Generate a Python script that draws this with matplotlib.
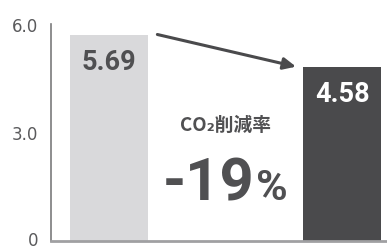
import numpy as np
import matplotlib.pyplot as plt
import matplotlib.transforms as mtransforms

# data
categories = ['before', 'after']
bar_heights = [5.69, 4.80]      # heights as drawn on the 0-6 scale
bar_labels = ['5.69', '4.58']
y_ticks = [0, 3, 6]
y_tick_labels = ['0', '3.0', '6.0']
note_text = 'CO₂削減率'
rate_text = '-19'
#
c_light = '#d9d9db'
c_dark = '#4a4a4c'
c_text = '#505052'

fig = plt.figure(figsize=(3.87, 2.51), dpi=100)
ax = fig.add_axes([51/387, 1-242/251, 1-51/387, (242-25)/251])

x = np.arange(len(categories))
w = 0.335
bars = ax.bar(x, bar_heights, width=w, color=[c_light, c_dark])

ax.set_xlim(-0.249, 1.193)
ax.set_ylim(0, 6)
ax.set_xticks([])
ax.set_yticks(y_ticks, y_tick_labels)
ax.tick_params(axis='y', length=0, pad=9, labelsize=12, labelcolor='#5a5a5c')
for lab in ax.get_yticklabels():
    lab.set_verticalalignment('center_baseline')
# keep "0" inside the picture
lab0 = ax.get_yticklabels()[0]
lab0.set_transform(lab0.get_transform() +
                   mtransforms.ScaledTranslation(0, 2.5/72, fig.dpi_scale_trans))
for s in ['top', 'right']:
    ax.spines[s].set_visible(False)
ax.spines['left'].set_color('#7a7a7c')
ax.spines['left'].set_linewidth(1.2)
ax.spines['left'].set_bounds(0, 6)
ax.spines['bottom'].set_color('#a0a0a2')
ax.spines['bottom'].set_linewidth(2.0)

# bar labels
label_colors = [c_text, 'white']
for i in range(len(x)):
    ax.text(x[i], bar_heights[i] - 0.72, bar_labels[i], ha='center', va='center',
            fontsize=19.5, fontweight='bold', family='Roboto', color=label_colors[i])

# arrow
ax.annotate('', xy=(x[1] - w/2 - 0.03, bar_heights[1] + 0.02),
            xytext=(x[0] + w/2 + 0.04, bar_heights[0] + 0.02),
            arrowprops=dict(arrowstyle='-|>,head_length=0.75,head_width=0.35',
                            color=c_dark, lw=2.2, shrinkA=0, shrinkB=0))

# center text
ax.text(0.5, 3.22, note_text, ha='center', va='center', fontsize=13.5,
        family=['Noto Sans CJK JP', 'DejaVu Sans'], fontweight='bold', color=c_text)
ax.text(0.625, 1.16, rate_text, ha='right', va='baseline', fontsize=43,
        family='Roboto', fontweight='bold', color=c_text)
ax.text(0.63, 1.16, '%', ha='left', va='baseline', fontsize=31,
        family='Roboto', fontweight='bold', color=c_text)

fig.savefig('out.png', dpi=100)
